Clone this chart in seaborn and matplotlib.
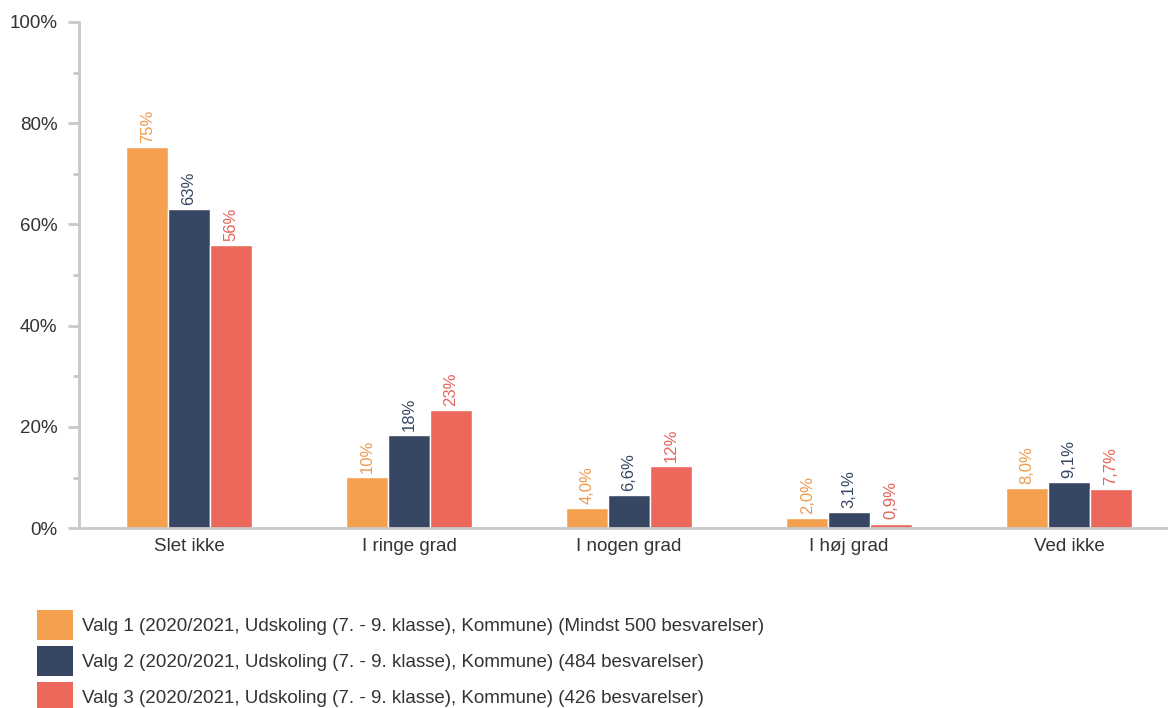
import pandas as pd
import matplotlib.pyplot as plt
import seaborn as sns
from matplotlib.patches import Patch
from matplotlib.ticker import MultipleLocator

categories = ["Slet ikke", "I ringe grad", "I nogen grad", "I høj grad", "Ved ikke"]
series = [
    "Valg 1 (2020/2021, Udskoling (7. - 9. klasse), Kommune) (Mindst 500 besvarelser)",
    "Valg 2 (2020/2021, Udskoling (7. - 9. klasse), Kommune) (484 besvarelser)",
    "Valg 3 (2020/2021, Udskoling (7. - 9. klasse), Kommune) (426 besvarelser)",
]
valg1 = [75.3, 10.1, 4.0, 2.0, 8.0]
valg2 = [63.0, 18.4, 6.6, 3.1, 9.1]
valg3 = [55.9, 23.3, 12.2, 0.9, 7.7]
colors = ["#F4A04F", "#374763", "#EB685B"]
label_colors = ["#EE9A4E", "#374763", "#E5645A"]

rows = []
for s, vals in zip(series, [valg1, valg2, valg3]):
    for c, v in zip(categories, vals):
        rows.append({"kategori": c, "serie": s, "pct": v})
df = pd.DataFrame(rows)

sns.set_style("white")
plt.rcParams["font.family"] = ["Liberation Sans", "DejaVu Sans"]

fig = plt.figure(figsize=(11.68, 7.08), dpi=100)
ax = fig.add_axes([0.0676, 0.254, 0.9324, 0.715])

sns.barplot(data=df, x="kategori", y="pct", hue="serie", order=categories,
            hue_order=series, palette=colors, width=0.57, edgecolor="white",
            linewidth=1, saturation=1, legend=False, ax=ax)


def fmt(v):
    if v >= 10:
        return f"{v:.0f}%"
    return f"{v:.1f}%".replace(".", ",")


for cont, col in zip(ax.containers, label_colors):
    ax.bar_label(cont, labels=[fmt(b.get_height()) for b in cont],
                 rotation=90, padding=3, color=col, fontsize=12)

ax.set_ylim(0, 100)
ax.set_xlim(-0.5, 4.45)
ax.yaxis.set_major_locator(MultipleLocator(20))
ax.yaxis.set_minor_locator(MultipleLocator(10))
ax.yaxis.set_major_formatter(lambda v, p: f"{v:.0f}%")
ax.tick_params(axis="y", which="major", length=8, width=2, color="#C8C8C8",
               labelsize=13.5, labelcolor="#333333", pad=7.5, left=True)
ax.tick_params(axis="y", which="minor", length=4, width=2, color="#C8C8C8", left=True)
ax.tick_params(axis="x", length=0, labelsize=13.5, labelcolor="#333333", pad=7)
ax.set_xlabel("")
ax.set_ylabel("")
for side in ["top", "right"]:
    ax.spines[side].set_visible(False)
for side in ["left", "bottom"]:
    ax.spines[side].set_color("#C8C8C8")
    ax.spines[side].set_linewidth(2)

handles = [Patch(facecolor=c, edgecolor="none") for c in colors]
fig.legend(handles, series, loc="upper left", bbox_to_anchor=(0.0317, 0.1384),
           frameon=False, fontsize=13.5, handlelength=1.92, handleheight=2.085,
           labelspacing=0.32, handletextpad=0.48, borderpad=0, borderaxespad=0,
           labelcolor="#333333")

fig.savefig("out.png", dpi=100)
